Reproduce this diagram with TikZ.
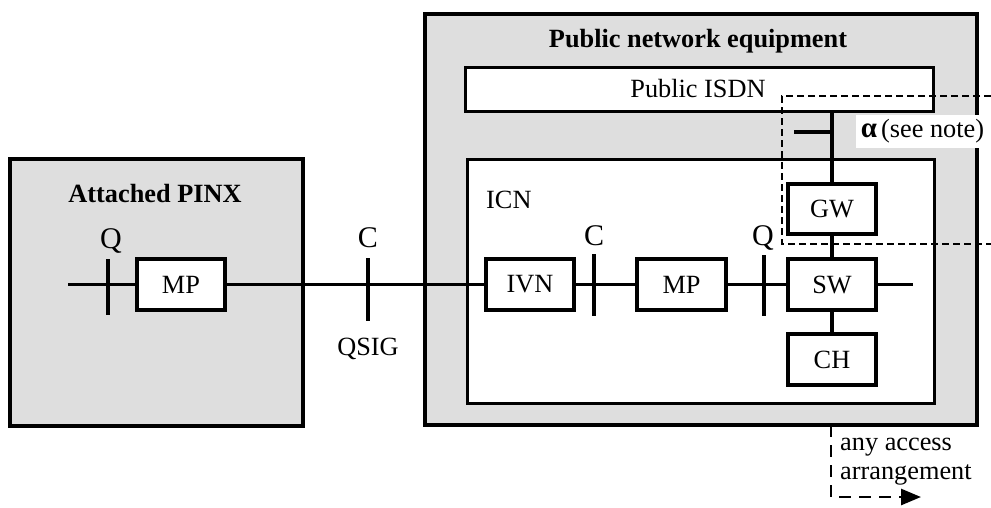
\documentclass[tikz,border=0pt]{standalone}
\usepackage{fontspec}
\setmainfont{Liberation Serif}
\usetikzlibrary{arrows.meta}
\definecolor{panelgray}{HTML}{DEDEDE}
\begin{document}
\begin{tikzpicture}[x=1pt,y=-1pt,
  txt/.style={font=\fontsize{26.3}{29}\selectfont, inner sep=0pt},
  reftxt/.style={font=\fontsize{30}{32}\selectfont, inner sep=0pt},
  btxt/.style={font=\fontsize{26.3}{29}\selectfont\bfseries, inner sep=0pt},
  panel/.style={draw, line width=3.5pt, fill=panelgray, inner sep=0pt},
  area/.style={draw, line width=3.2pt, fill=white, inner sep=0pt, font=\fontsize{26.3}{29}\selectfont},
  box/.style={draw, line width=3.2pt, fill=white, minimum width=88pt, minimum height=51pt, inner sep=0pt, font=\fontsize{26.3}{29}\selectfont},
  wire/.style={line width=3.2pt},
  dsh/.style={line width=2.7pt, dash pattern=on 7pt off 4pt},
  dshb/.style={line width=2.7pt, dash pattern=on 12pt off 8pt},
]
\useasboundingbox (0,0) rectangle (991,507);

% panels
\node[panel, minimum width=293pt, minimum height=267pt, anchor=north west] (pinx) at (8,157) {};
\node[btxt, anchor=base] (pinxtitle) at (155,202) {Attached PINX};
\node[panel, minimum width=552pt, minimum height=411pt, anchor=north west] (pub) at (423,12) {};
\node[btxt, anchor=base] (pubtitle) at (698,47) {Public network equipment};
\node[area, minimum width=468pt, minimum height=44pt, anchor=north west] (isdn) at (464,66) {};
\node[txt, anchor=base] (isdntxt) at (698,97) {Public ISDN};
\node[area, minimum width=467pt, minimum height=244pt, anchor=north west] (icnbox) at (466,158) {};
\node[txt, anchor=base west] (icn) at (486,208) {ICN};

% boxes
\node[box] (mp1) at (181,284.5) {MP};
\node[box] (ivn) at (530,284.5) {IVN};
\node[box, minimum width=89pt] (mp2) at (681.5,284.5) {MP};
\node[box] (sw) at (832,284.5) {SW};
\node[box, minimum height=50pt] (gw) at (832,209) {GW};
\node[box] (ch) at (832,359.5) {CH};

% wires
\coordinate (lstart) at (68,284.5);
\coordinate (rend) at (913,284.5);
\draw[wire] (lstart) -- (mp1.west);
\draw[wire] (mp1.east) -- (ivn.west);
\draw[wire] (ivn.east) -- (mp2.west);
\draw[wire] (mp2.east) -- (sw.west);
\draw[wire] (sw.east) -- (rend);
\draw[wire] (isdn.south -| gw.north) -- (gw.north);
\draw[wire] (gw.south) -- (sw.north);
\draw[wire] (sw.south) -- (ch.north);
\coordinate (stub) at (794,132);
\draw[wire] (stub) -- (stub -| gw.north);

% ticks
\coordinate (q1t) at (108,259); \coordinate (q1b) at (108,315);
\draw[wire] (q1t) -- (q1b);
\coordinate (c1t) at (368,258); \coordinate (c1b) at (368,321);
\draw[wire] (c1t) -- (c1b);
\coordinate (c2t) at (594,254); \coordinate (c2b) at (594,316);
\draw[wire] (c2t) -- (c2b);
\coordinate (q2t) at (764,255); \coordinate (q2b) at (764,316);
\draw[wire] (q2t) -- (q2b);

% tick labels
\node[reftxt, anchor=base] (lq1) at (111,248) {Q};
\node[reftxt, anchor=base] (lc1) at (368,247) {C};
\node[txt, anchor=base] (lqsig) at (368,355) {QSIG};
\node[reftxt, anchor=base] (lc2) at (594,245) {C};
\node[reftxt, anchor=base] (lq2) at (763,245) {Q};

% dashed reference region
\coordinate (dtr) at (991,96);
\coordinate (dtl) at (782,96);
\coordinate (dbl) at (782,244);
\coordinate (dbr) at (991,244);
\draw[dsh] (dtr) -- (dtl) -- (dbl) -- (dbr);

% alpha label
\node[fill=white, minimum width=133pt, minimum height=33pt, inner sep=0pt, font=\fontsize{26.3}{29}\selectfont] (alpha) at (922.5,131.5) {{\fontsize{29}{29}\selectfont\textbf{α}}\hspace{4pt}(see note)};

% access arrangement
\coordinate (acc) at (831,425);
\coordinate (accend) at (921,497);
\draw[dshb, -{Triangle[length=20pt,width=16pt]}] (acc) |- (accend);
\node[txt, anchor=base west] (any) at (840,450) {any access};
\node[txt, anchor=base west] (arr) at (840,479) {arrangement};
\end{tikzpicture}
\end{document}
